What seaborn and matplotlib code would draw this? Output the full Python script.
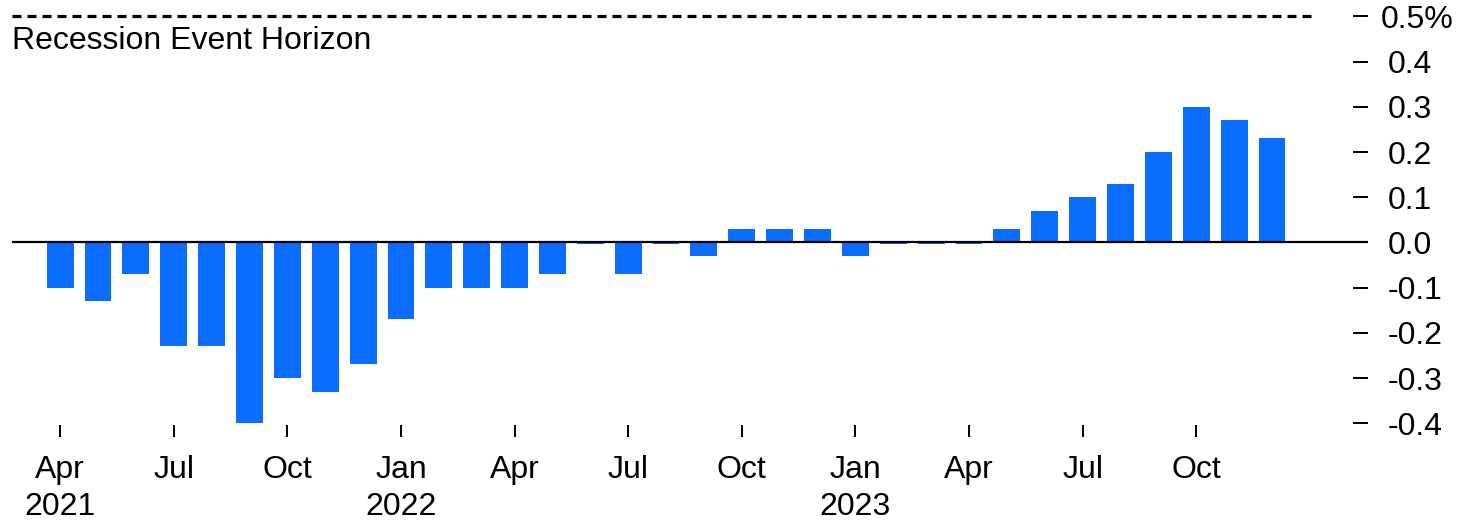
import matplotlib
matplotlib.use("Agg")
import matplotlib.pyplot as plt
import matplotlib.transforms as mtransforms
import seaborn as sns
import pandas as pd

# Monthly readings, April 2021 through December 2023 (percentage points)
months = pd.period_range("2021-04", "2023-12", freq="M").strftime("%b %Y").tolist()
values = [
    -0.10, -0.13, -0.07, -0.23, -0.23, -0.40, -0.30, -0.33, -0.27,   # Apr–Dec 2021
    -0.17, -0.10, -0.10, -0.10, -0.07, -0.003, -0.07, -0.003, -0.03,  # Jan–Sep 2022
    0.03, 0.03, 0.03,                                                 # Oct–Dec 2022
    -0.03, -0.003, -0.003, -0.003, 0.03, 0.07, 0.10, 0.13, 0.20,      # Jan–Sep 2023
    0.30, 0.27, 0.23,                                                 # Oct–Dec 2023
]
tick_months = ["Apr 2021", "Jul 2021", "Oct 2021", "Jan 2022", "Apr 2022", "Jul 2022",
               "Oct 2022", "Jan 2023", "Apr 2023", "Jul 2023", "Oct 2023"]
tick_labels = ["Apr\n2021", "Jul", "Oct", "Jan\n2022", "Apr", "Jul",
               "Oct", "Jan\n2023", "Apr", "Jul", "Oct"]
y_ticks = [0.5, 0.4, 0.3, 0.2, 0.1, 0.0, -0.1, -0.2, -0.3, -0.4]
y_tick_labels = ["", "0.4", "0.3", "0.2", "0.1", "0.0", "-0.1", "-0.2", "-0.3", "-0.4"]
threshold = 0.5
threshold_label = "0.5%"

BLUE = "#0A6DFF"
DPI = 100
W, H = 1460, 521

sns.set_theme(style="white")
plt.rcParams["font.family"] = ["Liberation Sans", "DejaVu Sans"]
plt.rcParams["lines.scale_dashes"] = False

def px(v):
    return v * 72.0 / DPI

fig = plt.figure(figsize=(W / DPI, H / DPI), dpi=DPI)
left, right, top, bottom = 12, 1368, 7.4, 437
ax = fig.add_axes([left / W, 1 - bottom / H, (right - left) / W, (bottom - top) / H])

df = pd.DataFrame({"month": months, "value": values})
sns.barplot(data=df, x="month", y="value", order=months, color=BLUE,
            saturation=1, width=0.71, linewidth=0, ax=ax)

n = len(months)
ax.set_xlim(-1.27, n - 1 + (right - 1272) / 37.875)
ax.set_ylim(-0.4305, 0.52)

# zero baseline and threshold line
ax.axhline(0, color="black", lw=px(2.2), zorder=3)
ax.axhline(threshold, xmin=0, xmax=(1313 - left) / (right - left), color="black",
           lw=px(3.2), dashes=(px(9), px(6)), zorder=3)

for s in ax.spines.values():
    s.set_visible(False)
ax.grid(False)
ax.set_xlabel("")
ax.set_ylabel("")

fs = 23
# x axis: quarterly ticks
ax.set_xticks([months.index(m) for m in tick_months])
ax.set_xticklabels(tick_labels, fontsize=fs, color="black", linespacing=1.3)
ax.tick_params(axis="x", direction="in", length=px(12), width=px(2), color="black",
               pad=px(18), bottom=True)

# y axis on the right
ax.yaxis.tick_right()
ax.set_yticks(y_ticks)
ax.set_yticklabels(y_tick_labels, fontsize=fs, color="black")
ax.tick_params(axis="y", direction="in", length=px(15), width=px(2), color="black",
               pad=px(20), right=True, left=False)

trans = mtransforms.blended_transform_factory(ax.transAxes, ax.transData)
ax.annotate(threshold_label, xy=(1, threshold), xycoords=trans, xytext=(px(13), 0),
            textcoords="offset points", ha="left", va="center_baseline",
            fontsize=fs, color="black")

fig.text(left / W, 1 - 49 / H, "Recession Event Horizon", fontsize=fs,
         color="black", ha="left", va="baseline")

fig.savefig("out.png", dpi=DPI, facecolor="white")
